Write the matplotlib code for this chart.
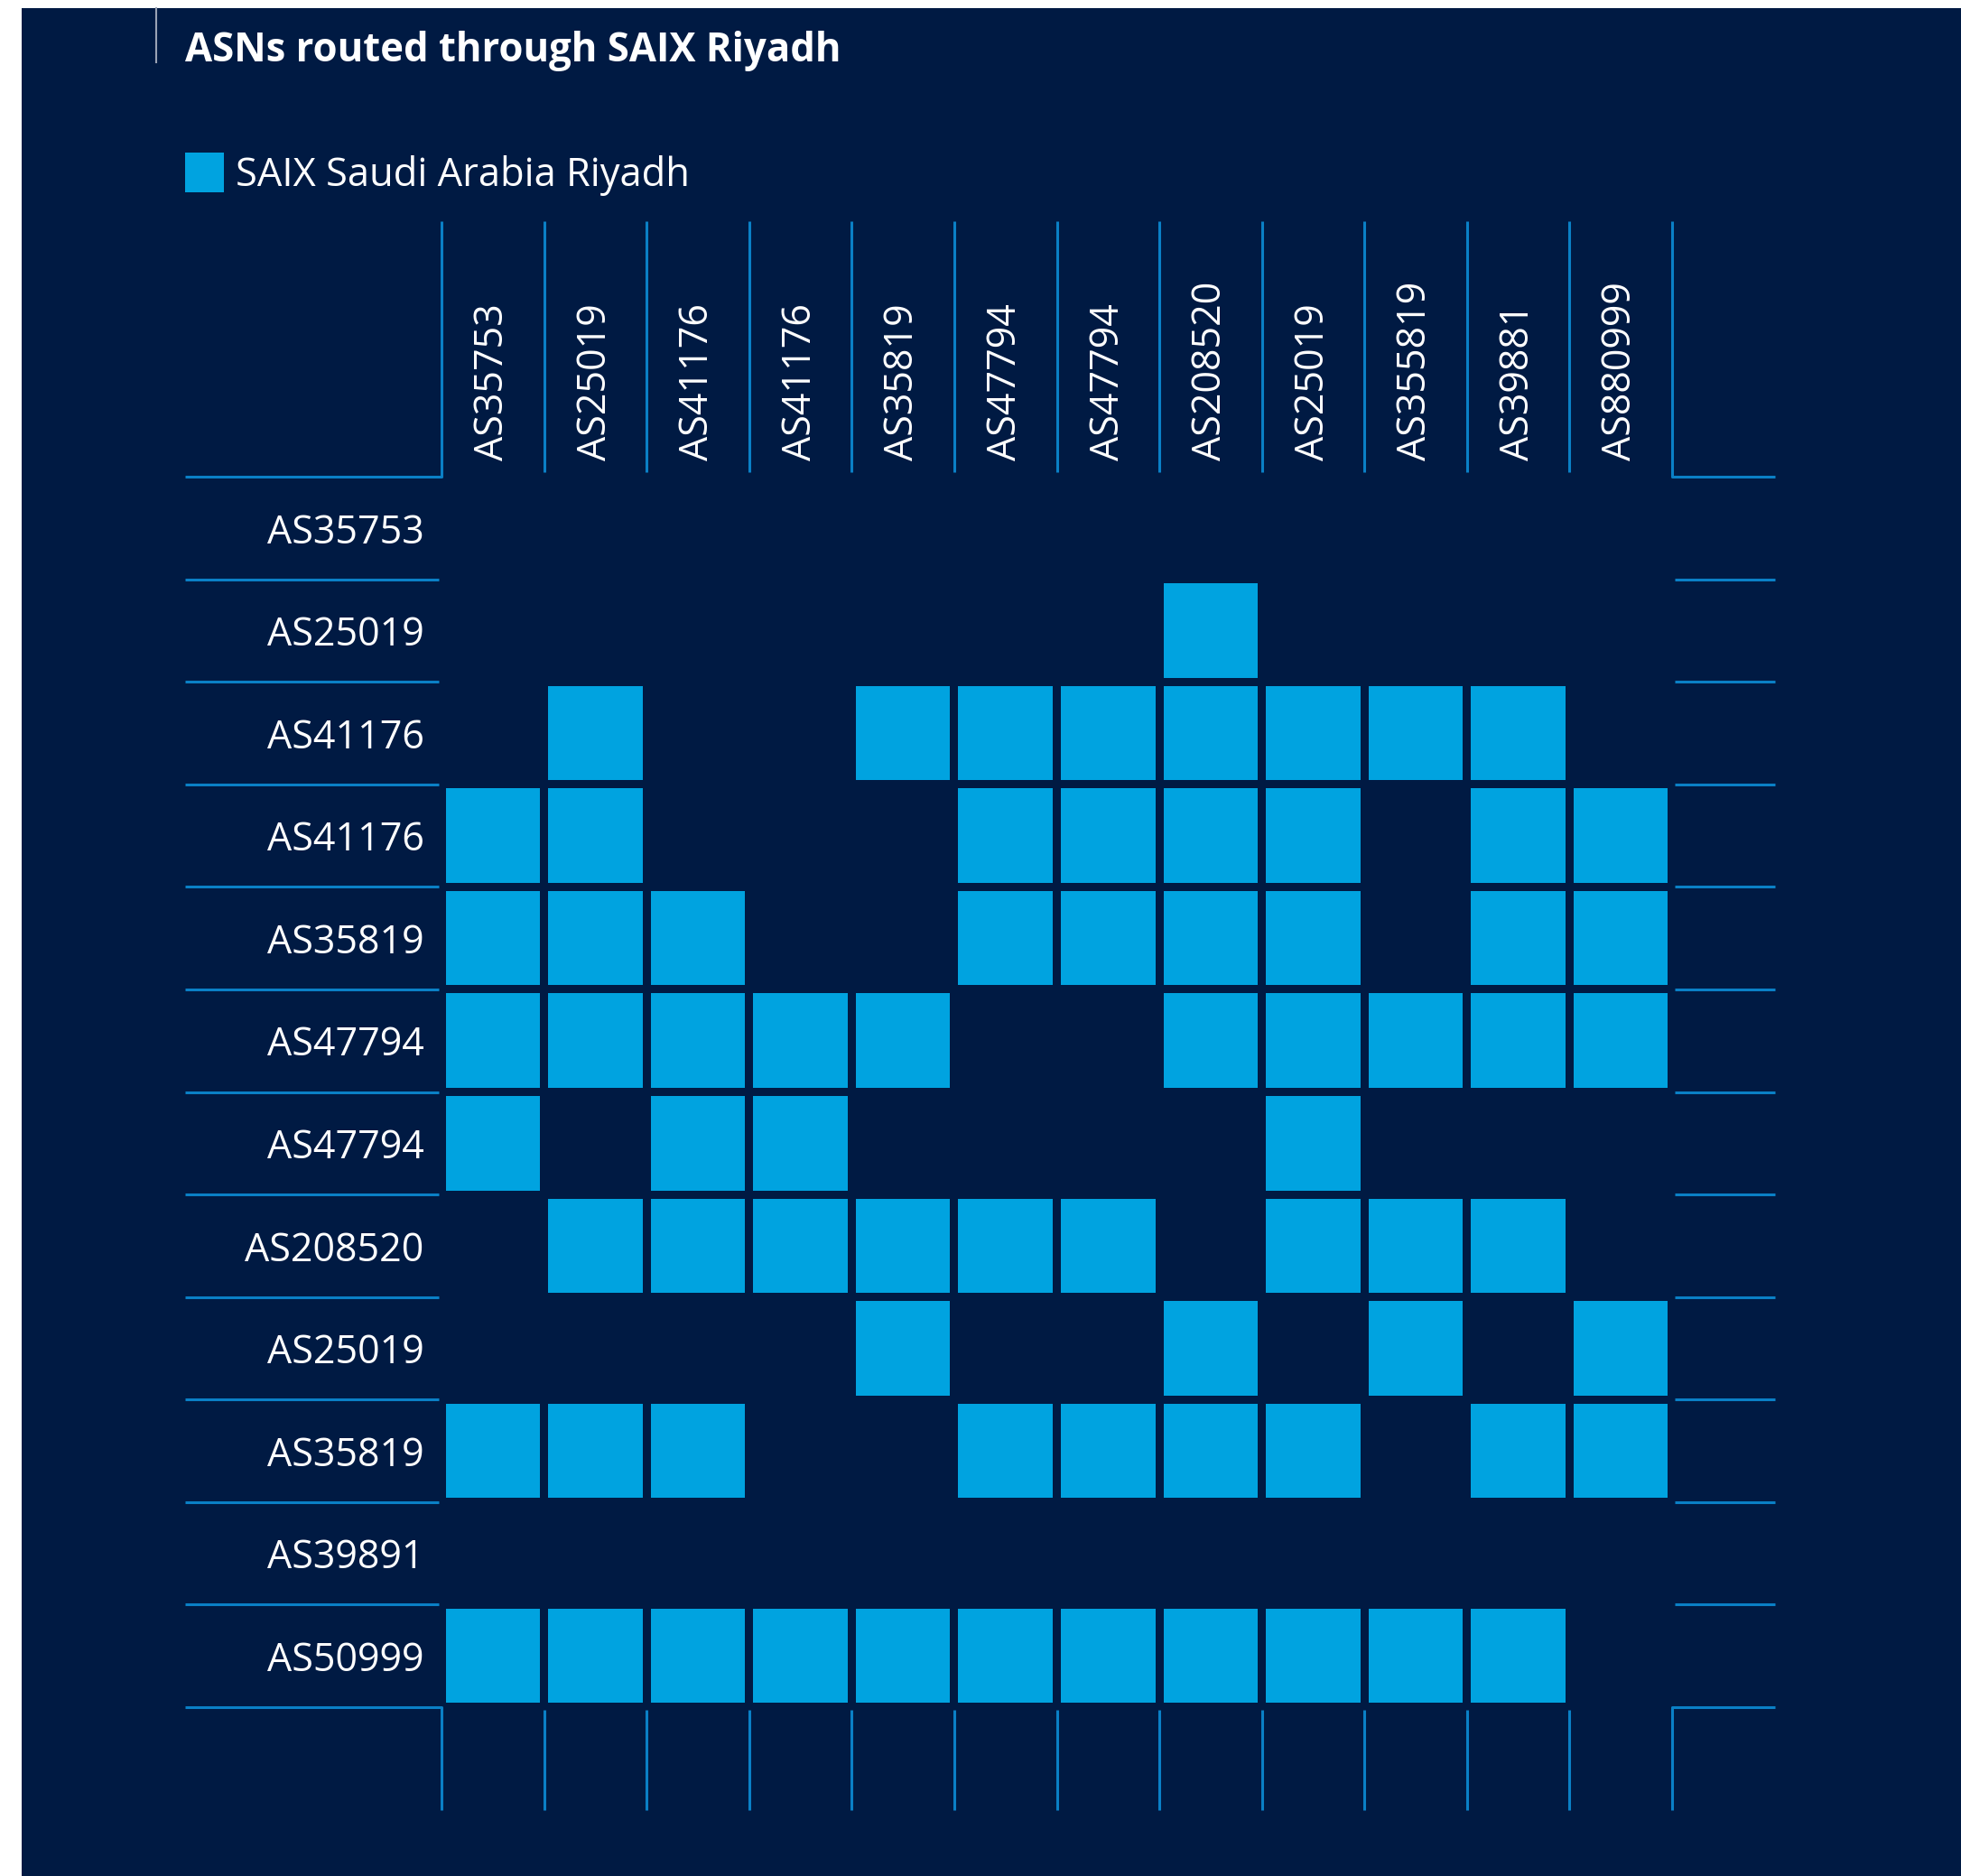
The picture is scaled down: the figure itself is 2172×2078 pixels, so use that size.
import numpy as np
import matplotlib.pyplot as plt
from matplotlib.patches import Rectangle

plt.rcParams['font.family'] = ['Open Sans', 'DejaVu Sans']

# ASNs across the top and down the side
col_labels = ['AS35753', 'AS25019', 'AS41176', 'AS41176', 'AS35819', 'AS47794',
              'AS47794', 'AS208520', 'AS25019', 'AS355819', 'AS39881', 'AS880999']
row_labels = ['AS35753', 'AS25019', 'AS41176', 'AS41176', 'AS35819', 'AS47794',
              'AS47794', 'AS208520', 'AS25019', 'AS35819', 'AS39891', 'AS50999']

# 1 = routed through SAIX Riyadh
routed = np.array([
    [0, 0, 0, 0, 0, 0, 0, 0, 0, 0, 0, 0],
    [0, 0, 0, 0, 0, 0, 0, 1, 0, 0, 0, 0],
    [0, 1, 0, 0, 1, 1, 1, 1, 1, 1, 1, 0],
    [1, 1, 0, 0, 0, 1, 1, 1, 1, 0, 1, 1],
    [1, 1, 1, 0, 0, 1, 1, 1, 1, 0, 1, 1],
    [1, 1, 1, 1, 1, 0, 0, 1, 1, 1, 1, 1],
    [1, 0, 1, 1, 0, 0, 0, 0, 1, 0, 0, 0],
    [0, 1, 1, 1, 1, 1, 1, 0, 1, 1, 1, 0],
    [0, 0, 0, 0, 1, 0, 0, 1, 0, 1, 0, 1],
    [1, 1, 1, 0, 0, 1, 1, 1, 1, 0, 1, 1],
    [0, 0, 0, 0, 0, 0, 0, 0, 0, 0, 0, 0],
    [1, 1, 1, 1, 1, 1, 1, 1, 1, 1, 1, 0],
])

series_name = 'SAIX Saudi Arabia Riyadh'
title = 'ASNs routed through SAIX Riyadh'

bg = '#001A43'
cell = '#00A3E0'
line = '#0A80C6'

W, H = 2172, 2078
fig = plt.figure(figsize=(W / 100, H / 100), dpi=100, facecolor='white')

# navy page, white strip on top and left
fig.add_artist(Rectangle((24 / W, 0), 1, 1 - 9 / H, transform=fig.transFigure,
                         facecolor=bg, edgecolor='none', zorder=-5))

# grid area in pixels
gx0, gx1 = 489, 1852
gy0, gy1 = 528, 1891
ax = fig.add_axes([gx0 / W, 1 - gy1 / H, (gx1 - gx0) / W, (gy1 - gy0) / H])
ax.set_facecolor('none')
n_rows, n_cols = routed.shape
ax.set_xlim(0, n_cols)
ax.set_ylim(n_rows, 0)
for s in ax.spines.values():
    s.set_visible(False)

# cells
rr, cc = np.nonzero(routed)
gap = 0.08
ax.bar(cc + 0.5, np.full(len(rr), 1 - gap), bottom=rr + gap / 2, width=1 - gap,
       color=cell, edgecolor='none', zorder=2)

# labels
ax.set_yticks(np.arange(n_rows) + 0.5, row_labels)
ax.xaxis.tick_top()
ax.set_xticks(np.arange(n_cols) + 0.5, col_labels, rotation=90)
ax.tick_params(axis='y', length=0, pad=14, labelsize=31, labelcolor='white')
ax.tick_params(axis='x', length=0, pad=13, labelsize=31, labelcolor='white')

lw = 2.2
head = 2.49   # header height in cell units
side = 2.5    # label column width in cell units
tail = 1.0    # right / bottom stub length
kw = dict(color=line, lw=lw, clip_on=False, solid_capstyle='butt', zorder=1)

# header: column separators and corner brackets
for x in range(1, n_cols):
    ax.plot([x, x], [-head, -0.04], **kw)
ax.plot([-side, 0, 0], [0, 0, -head], **kw)
ax.plot([n_cols + tail, n_cols, n_cols], [0, 0, -head], **kw)

# row separators outside grid
for y in range(1, n_rows):
    ax.plot([-side, -0.03], [y, y], **kw)
    ax.plot([n_cols + 0.03, n_cols + tail], [y, y], **kw)

# bottom brackets and stubs
ax.plot([-side, 0, 0], [n_rows, n_rows, n_rows + tail], **kw)
ax.plot([n_cols + tail, n_cols, n_cols], [n_rows, n_rows, n_rows + tail], **kw)
for x in range(1, n_cols):
    ax.plot([x, x], [n_rows + 0.03, n_rows + tail], **kw)

# title with thin rule
fig.add_artist(plt.Line2D([173 / W, 173 / W], [1 - 9 / H, 1 - 69 / H],
                          transform=fig.transFigure, color='#9aa3b5', lw=1.5))
fig.text(205 / W, 1 - 68 / H, title, color='white', fontsize=31.4,
         fontweight='bold', ha='left', va='baseline')

# legend
fig.add_artist(Rectangle((205 / W, 1 - 213 / H), 43 / W, 44 / H,
                         transform=fig.transFigure, facecolor=cell, edgecolor='none'))
fig.text(261 / W, 1 - 206 / H, series_name, color='white', fontsize=31.3,
         ha='left', va='baseline')

fig.savefig('out.png', dpi=100, facecolor=fig.get_facecolor())
